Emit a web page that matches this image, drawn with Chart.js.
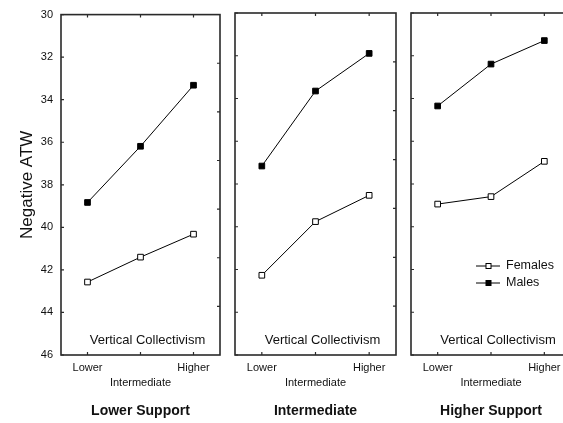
<!DOCTYPE html>
<html>
<head>
<meta charset="utf-8">
<script src="https://cdn.jsdelivr.net/npm/chart.js@4.4.0/dist/chart.umd.min.js"></script>
<style>
  body { margin: 0; background: #fff; }
  #wrap { position: relative; width: 563px; height: 423px; overflow: hidden; background: #fff; }
  #wrap canvas { position: absolute; top: 0; }
</style>
</head>
<body>
<div id="wrap">
  <canvas id="c1" width="226" height="423" style="left:0px"></canvas>
  <canvas id="c2" width="172" height="423" style="left:230px"></canvas>
  <canvas id="c3" width="172" height="423" style="left:405px"></canvas>
</div>
<script>
// Datos
const categories = ['Lower', 'Intermediate', 'Higher'];
const panelTitles = ['Lower Support', 'Intermediate', 'Higher Support'];
const seriesNames = ['Females', 'Males'];

const femalesLower = [42.57, 41.40, 40.32];
const malesLower = [38.83, 36.19, 33.32];
const femalesInter = [42.27, 39.76, 38.53];
const malesInter = [37.16, 33.65, 31.89];
const femalesHigher = [38.94, 38.59, 36.94];
const malesHigher = [34.35, 32.39, 31.29];

const yMin = 30;
const yMax = 46;
const yStep = 2;
const rightDivisions = 7;
const innerLabel = 'Vertical Collectivism';
const yTitle = 'Negative ATW';

const FONT = "'Liberation Sans', Arial, sans-serif";
const INK = '#111';
const FRAME = '#2a2a2a';

// Marco, marcas interiores, texto y leyenda
const framePlugin = {
  id: 'frame',
  afterDraw(chart, args, opts) {
    const ctx = chart.ctx;
    const a = chart.chartArea;
    const x = chart.scales.x;
    const y = chart.scales.y;
    ctx.save();
    ctx.strokeStyle = FRAME;
    ctx.lineWidth = 1.6;
    ctx.strokeRect(a.left, a.top, a.right - a.left, a.bottom - a.top);

    ctx.lineWidth = 1.2;
    ctx.beginPath();
    x.ticks.forEach((t, i) => {
      const px = x.getPixelForTick(i);
      ctx.moveTo(px, a.bottom); ctx.lineTo(px, a.bottom - 3);
      ctx.moveTo(px, a.top); ctx.lineTo(px, a.top + 3);
    });
    y.ticks.forEach(t => {
      const py = y.getPixelForValue(t.value);
      ctx.moveTo(a.left, py); ctx.lineTo(a.left + 3, py);
    });
    for (let k = 1; k < rightDivisions; k++) {
      const py = y.getPixelForValue(yMin + (yMax - yMin) * k / rightDivisions);
      ctx.moveTo(a.right, py); ctx.lineTo(a.right - 3, py);
    }
    ctx.stroke();

    ctx.fillStyle = INK;
    ctx.font = '13px ' + FONT;
    ctx.textAlign = 'center';
    ctx.textBaseline = 'middle';
    ctx.fillText(innerLabel, (a.left + a.right) / 2 + 7, a.bottom - 15);

    if (opts.legend) {
      ctx.font = '12.5px ' + FONT;
      ctx.textAlign = 'left';
      chart.data.datasets.forEach((ds, i) => {
        const ly = a.top + 253 + i * 17;
        const lx = a.left + 65;
        ctx.strokeStyle = '#000';
        ctx.lineWidth = 1;
        ctx.beginPath();
        ctx.moveTo(lx, ly); ctx.lineTo(lx + 24, ly);
        ctx.stroke();
        ctx.fillStyle = ds.pointBackgroundColor;
        ctx.fillRect(lx + 10, ly - 2.5, 5, 5);
        ctx.strokeRect(lx + 10, ly - 2.5, 5, 5);
        ctx.fillStyle = INK;
        ctx.fillText(ds.label, lx + 30, ly);
      });
    }
    ctx.restore();
  }
};

function makePanel(id, females, males, title, first, padL, padR, legend) {
  const yScale = {
    type: 'linear',
    reverse: true,
    min: yMin,
    max: yMax,
    display: first,
    ticks: { stepSize: yStep, padding: 8, color: INK, font: { family: FONT, size: 11 } },
    grid: { display: false, drawTicks: false },
    border: { display: false },
    title: { display: first, text: yTitle, color: INK, font: { family: FONT, size: 17 }, padding: { top: 17, bottom: 0 } },
    afterFit: s => { s.width = first ? 61 : 0; }
  };

  new Chart(document.getElementById(id), {
    type: 'line',
    data: {
      labels: categories,
      datasets: [
        {
          label: seriesNames[0],
          data: females,
          borderColor: '#000',
          borderWidth: 1,
          pointStyle: 'rect',
          pointRadius: 4,
          pointBorderWidth: 1,
          pointBorderColor: '#000',
          pointBackgroundColor: '#fff'
        },
        {
          label: seriesNames[1],
          data: males,
          borderColor: '#000',
          borderWidth: 1,
          pointStyle: 'rect',
          pointRadius: 4,
          pointBorderWidth: 1,
          pointBorderColor: '#000',
          pointBackgroundColor: '#000'
        }
      ]
    },
    options: {
      responsive: false,
      animation: false,
      layout: { padding: { top: 13, left: padL, right: padR, bottom: 0 } },
      plugins: {
        legend: { display: false },
        tooltip: { enabled: false },
        frame: { legend: legend }
      },
      scales: {
        x: {
          type: 'category',
          offset: true,
          ticks: {
            padding: 6,
            color: INK,
            maxRotation: 0,
            autoSkip: false,
            font: { family: FONT, size: 11, lineHeight: 1.35 },
            callback: function (v, i) {
              const lab = this.getLabelForValue(v);
              return i === 1 ? ['', lab] : lab;
            }
          },
          grid: { display: false, drawTicks: false },
          border: { display: false },
          title: { display: true, text: title, color: INK, font: { family: FONT, size: 14, weight: 'bold' }, padding: { top: 0, bottom: 3 } },
          afterFit: s => { s.height = 68; }
        },
        y: yScale
      }
    },
    plugins: [framePlugin]
  });
}

makePanel('c1', femalesLower, malesLower, panelTitles[0], true, 0, 6, false);
makePanel('c2', femalesInter, malesInter, panelTitles[1], false, 5, 6, false);
makePanel('c3', femalesHigher, malesHigher, panelTitles[2], false, 6, 6, true);
</script>
</body>
</html>
